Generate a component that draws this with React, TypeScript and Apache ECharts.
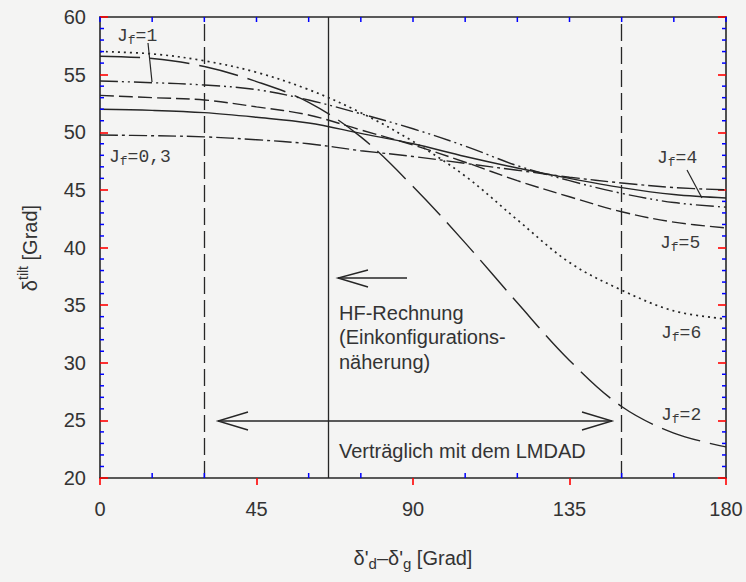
import React, { useEffect, useRef } from 'react';
import * as echarts from 'echarts';

// x values (degrees) and curves
const xDeg = [0, 15, 30, 45, 60, 75, 90, 105, 120, 135, 150, 165, 180];
const yLongDash = [56.6, 56.4, 55.7, 54.4, 52.6, 49.6, 45.3, 40.4, 35.2, 30.2, 26.2, 23.9, 22.7];
const yDotted = [57.0, 56.8, 56.2, 55.2, 53.7, 51.7, 49.2, 46.2, 42.4, 38.7, 36.3, 34.5, 33.8];
const yDashDotDot = [54.45, 54.3, 54.1, 53.7, 52.8, 51.6, 50.3, 48.8, 47.1, 45.8, 44.7, 43.9, 43.5];
const yDashed = [53.2, 53.0, 52.8, 52.2, 51.5, 50.2, 48.9, 47.4, 45.8, 44.4, 43.1, 42.2, 41.7];
const ySolid = [52.0, 51.9, 51.7, 51.3, 50.8, 49.9, 49.0, 47.9, 46.9, 46.0, 45.2, 44.6, 44.3];
const yDashDot = [49.76, 49.7, 49.6, 49.35, 49.0, 48.4, 47.9, 47.3, 46.7, 46.1, 45.6, 45.2, 45.0];

const verticalLines = [30, 65.5, 150];
const xMajorTicks = [0, 45, 90, 135, 180];
const xMinorTicks = [15, 30, 60, 75, 105, 120, 150, 165];
const yMajorTicks = [25, 30, 35, 40, 45, 50, 55];

const X_MIN = 0, X_MAX = 180, Y_MIN = 20, Y_MAX = 60;

const INK = '#262626';
const TICK = 'red';
const SANS = 'Liberation Sans, Arial, sans-serif';
const MONO = 'Liberation Mono, Courier New, monospace';

function jLabel(rest: string, x: number, y: number) {
  return {
    type: 'text',
    x,
    y,
    style: {
      text: `{j|J}{f|f}{j|${rest}}`,
      verticalAlign: 'middle',
      align: 'left',
      fill: INK,
      rich: {
        j: { fontFamily: MONO, fontSize: 18, lineHeight: 22, fill: '#3a3a3a' },
        f: { fontFamily: MONO, fontSize: 13, lineHeight: 13, verticalAlign: 'bottom', fill: '#3a3a3a' },
      },
    },
  };
}

export default function App() {
  const ref = useRef<HTMLDivElement>(null);
  useEffect(() => {
    if (!ref.current) return;
    const chart = echarts.init(ref.current, undefined, { renderer: 'svg' });
    const mk = (data: number[], type: any, width = 1.4) => ({
      type: 'line',
      data: xDeg.map((x, i) => [x, data[i]]),
      smooth: 0.35,
      symbol: 'none',
      lineStyle: { color: INK, width, type },
      silent: true,
    });
    const series: any[] = [
      mk(yLongDash, [40, 10]),
      mk(yDotted, [2, 4], 1.7),
      mk(yDashDotDot, [18, 4, 2, 4, 2, 4]),
      mk(yDashed, [14, 5]),
      mk(ySolid, 'solid'),
      mk(yDashDot, [18, 4, 3, 4]),
    ];
    series[0].markLine = {
      silent: true,
      symbol: ['none', 'none'],
      label: { show: false },
      data: verticalLines.map((v, i) => ({
        xAxis: v,
        lineStyle: { color: INK, width: 1.3, type: i === 1 ? 'solid' : [17, 6] },
      })),
    };
    const axisLine = { show: true, onZero: false, lineStyle: { color: INK, width: 1.6 } };
    const graphic: any[] = [
      {
        type: 'text', x: 30, y: 248, rotation: Math.PI / 2,
        style: {
          text: '{d|δ}{s|tilt}{d| [Grad]}', align: 'center', verticalAlign: 'middle',
          rich: {
            d: { fontFamily: SANS, fontSize: 20, lineHeight: 28, fill: '#333' },
            s: { fontFamily: SANS, fontSize: 14, lineHeight: 14, verticalAlign: 'top', fill: '#333' },
          },
        },
      },
      {
        type: 'text', x: 413, y: 558,
        style: {
          text: "{d|δ'}{s|d}{d|–δ'}{s|g}{d| [Grad]}", align: 'center', verticalAlign: 'middle',
          rich: {
            d: { fontFamily: SANS, fontSize: 20, lineHeight: 26, fill: '#333' },
            s: { fontFamily: SANS, fontSize: 15, lineHeight: 15, verticalAlign: 'bottom', fill: '#333' },
          },
        },
      },
      jLabel('=1', 117, 36),
      jLabel('=0,3', 109, 157),
      jLabel('=4', 657, 158),
      jLabel('=5', 660, 243),
      jLabel('=6', 661, 333),
      jLabel('=2', 661, 415),
      { type: 'line', shape: { x1: 148, y1: 43, x2: 152, y2: 82 }, style: { stroke: INK, lineWidth: 1.2 } },
      { type: 'line', shape: { x1: 687, y1: 170, x2: 702, y2: 198 }, style: { stroke: INK, lineWidth: 1.2 } },
      { type: 'line', shape: { x1: 338, y1: 278, x2: 407, y2: 278 }, style: { stroke: INK, lineWidth: 1.4 } },
      { type: 'polyline', shape: { points: [[368, 270], [338, 278], [368, 287]] }, style: { stroke: INK, lineWidth: 1.4, fill: 'none' } },
      { type: 'line', shape: { x1: 218, y1: 421, x2: 612, y2: 421 }, style: { stroke: INK, lineWidth: 1.4 } },
      { type: 'polyline', shape: { points: [[248, 412], [218, 421], [248, 430]] }, style: { stroke: INK, lineWidth: 1.4, fill: 'none' } },
      { type: 'polyline', shape: { points: [[582, 412], [612, 421], [582, 430]] }, style: { stroke: INK, lineWidth: 1.4, fill: 'none' } },
      {
        type: 'text', x: 339, y: 337,
        style: {
          text: 'HF-Rechnung\n(Einkonfigurations-\nnäherung)', fontFamily: SANS, fontSize: 20,
          lineHeight: 24.5, fill: '#333', align: 'left', verticalAlign: 'middle',
        },
      },
      {
        type: 'text', x: 339, y: 451,
        style: { text: 'Verträglich mit dem LMDAD', fontFamily: SANS, fontSize: 20, fill: '#333', align: 'left', verticalAlign: 'middle' },
      },
    ];
    const option: any = {
      animation: false,
      backgroundColor: '#f4f4f3',
      grid: { left: 100, right: 20, top: 17, bottom: 104 },
      xAxis: [
        {
          type: 'value', position: 'bottom', min: X_MIN, max: X_MAX, interval: 45,
          axisLine,
          axisTick: { show: true, inside: false, length: 7, lineStyle: { color: TICK, width: 1.6 } },
          axisLabel: { fontFamily: SANS, fontSize: 20, color: '#333', margin: 21 },
          splitLine: { show: false },
        },
        {
          type: 'value', position: 'top', min: X_MIN, max: X_MAX, interval: 45,
          axisLine,
          axisTick: { show: false },
          axisLabel: { show: false },
          splitLine: { show: false },
        },
      ],
      yAxis: [
        {
          type: 'value', position: 'left', min: Y_MIN, max: Y_MAX, interval: 5,
          axisLine,
          axisTick: { show: true, inside: true, length: 8, lineStyle: { color: TICK, width: 1.6 } },
          axisLabel: { fontFamily: SANS, fontSize: 20, color: '#333', margin: 14 },
          splitLine: { show: false },
        },
        {
          type: 'value', position: 'right', min: Y_MIN, max: Y_MAX, interval: 5,
          axisLine,
          axisTick: { show: true, inside: true, length: 8, lineStyle: { color: TICK, width: 1.6 } },
          axisLabel: { show: false },
          splitLine: { show: false },
        },
      ],
      series,
      graphic,
    };
    chart.setOption(option);

    const px = (x: number, y: number) => chart.convertToPixel({ gridIndex: 0 } as any, [x, y]) as number[];
    const tick = (x1: number, y1: number, x2: number, y2: number) => ({
      type: 'line', silent: true, z: 10,
      shape: { x1, y1, x2, y2 },
      style: { stroke: 'blue', lineWidth: 1.5 },
    });
    const ticks: any[] = [];
    xMinorTicks.forEach((v) => {
      const p = px(v, Y_MIN);
      ticks.push(tick(p[0], p[1], p[0], p[1] - 5));
    });
    xMajorTicks.concat(xMinorTicks).forEach((v) => {
      const p = px(v, Y_MAX);
      ticks.push(tick(p[0], p[1], p[0], p[1] + 5));
    });
    for (let v = Y_MIN + 1; v < Y_MAX; v++) {
      if (yMajorTicks.indexOf(v) >= 0) continue;
      const l = px(X_MIN, v);
      const r = px(X_MAX, v);
      ticks.push(tick(l[0], l[1], l[0] + 4, l[1]));
      ticks.push(tick(r[0], r[1], r[0] - 4, r[1]));
    }
    chart.setOption({ graphic: graphic.concat(ticks) });
    return () => chart.dispose();
  }, []);
  return <div ref={ref} style={{ position: 'absolute', left: 0, top: 0, width: 746, height: 582 }} />;
}
